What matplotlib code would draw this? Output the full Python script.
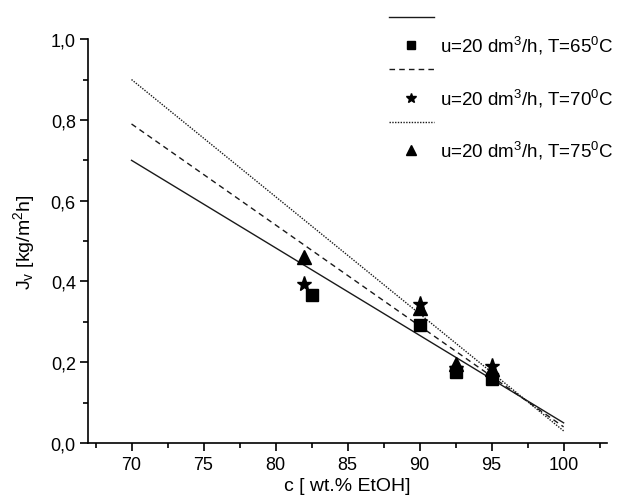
import matplotlib
matplotlib.use("Agg")
import matplotlib.pyplot as plt
from matplotlib.ticker import MultipleLocator, FuncFormatter

plt.rcParams['font.family'] = ['Liberation Sans', 'DejaVu Sans']
plt.rcParams['mathtext.fontset'] = 'custom'
plt.rcParams['mathtext.rm'] = 'Liberation Sans'
plt.rcParams['mathtext.it'] = 'Liberation Sans'

# fitted lines (endpoints at c=70 and c=100)
fit_x = [70, 100]
fit_65 = [0.70, 0.050]
fit_70 = [0.79, 0.040]
fit_75 = [0.90, 0.030]

# experimental points
c_65 = [82.5, 90.0, 92.5, 95.0]
j_65 = [0.366, 0.292, 0.176, 0.158]
c_70 = [82.0, 90.0, 92.5, 95.0]
j_70 = [0.394, 0.344, 0.185, 0.191]
c_75 = [82.0, 90.0, 92.5, 95.0]
j_75 = [0.460, 0.334, 0.196, 0.183]

labels = ["u=20 dm$^\\mathregular{3}$/h, T=65$^\\mathregular{0}$C",
          "u=20 dm$^\\mathregular{3}$/h, T=70$^\\mathregular{0}$C",
          "u=20 dm$^\\mathregular{3}$/h, T=75$^\\mathregular{0}$C"]

fig = plt.figure(figsize=(6.18, 5.02), dpi=100)
ax = fig.add_axes([0.1429, 0.1155, 0.839, 0.8045])

l1, = ax.plot(fit_x, fit_65, color='#1a1a1a', lw=1.0, ls='-')
l2, = ax.plot(fit_x, fit_70, color='#1a1a1a', lw=1.0, ls=(0, (4, 3)))
l3, = ax.plot(fit_x, fit_75, color='#1a1a1a', lw=1.0, ls=(0, (1, 1)))

m1, = ax.plot(c_65, j_65, ls='none', marker='s', ms=8.5, color='black')
m2, = ax.plot(c_70, j_70, ls='none', marker='*', ms=11, color='black')
m3, = ax.plot(c_75, j_75, ls='none', marker='^', ms=10, color='black')

ax.set_xlim(67, 103)
ax.set_ylim(0, 1.0)
ax.xaxis.set_major_locator(MultipleLocator(5))
ax.xaxis.set_minor_locator(MultipleLocator(2.5))
ax.yaxis.set_major_locator(MultipleLocator(0.2))
ax.yaxis.set_minor_locator(MultipleLocator(0.1))
ax.yaxis.set_major_formatter(FuncFormatter(lambda v, p: f"{v:.1f}".replace('.', ',')))
ax.xaxis.set_major_formatter(FuncFormatter(lambda v, p: f"{v:.0f}"))

for s in ['top', 'right']:
    ax.spines[s].set_visible(False)
for s in ['left', 'bottom']:
    ax.spines[s].set_linewidth(1.2)
ax.tick_params(which='major', direction='out', length=6, width=1.2, labelsize=13, colors='black')
ax.tick_params(which='minor', direction='out', length=3.5, width=1.2)
ax.tick_params(axis='y', pad=3)

ax.set_xlabel("c [ wt.% EtOH]", fontsize=14, labelpad=3)
ax.set_ylabel("J$_\\mathregular{v}$ [kg/m$^\\mathregular{2}$h]", fontsize=14, labelpad=10)

handles = [l1, m1, l2, m2, l3, m3]
leg_labels = ["", labels[0], "", labels[1], "", labels[2]]
leg = fig.legend(handles, leg_labels, loc='upper left', bbox_to_anchor=(0.617, 0.993),
                 frameon=False, fontsize=13.5, handlelength=2.4, handletextpad=0.35,
                 labelspacing=0.36, borderaxespad=0, markerscale=0.7)

fig.savefig("out.png", dpi=100)
